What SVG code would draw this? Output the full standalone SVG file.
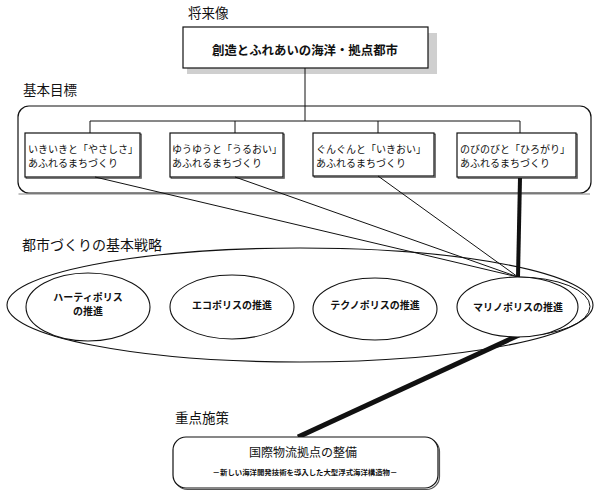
<svg xmlns="http://www.w3.org/2000/svg" width="600" height="496" viewBox="0 0 600 496">
<style>
text{font-family:"Noto Sans CJK JP","Noto Sans CJK SC",sans-serif;fill:#111}
.h{font-size:13.5px}
.bx{fill:#fff;stroke:#111;stroke-width:1.2}
.sh{fill:none;stroke:#555;stroke-width:1.2}
.el{fill:#fff;stroke:#111;stroke-width:1.1}
.t10{font-size:10px}
.e{font-size:10px;font-weight:bold;text-anchor:middle}
.thin{fill:none;stroke:#111;stroke-width:1}
.thick{fill:none;stroke:#111;stroke-linecap:butt}
</style>
<rect width="600" height="496" fill="#fff"/>

<g id="label-shoraizo"><text class="h" x="188" y="18">将来像</text></g>
<g id="label-kihonmokuhyo"><text class="h" x="23" y="95">基本目標</text></g>
<g id="label-senryaku"><text class="h" x="22" y="250" style="font-size:14px">都市づくりの基本戦略</text></g>
<g id="label-juten"><text class="h" x="175" y="423">重点施策</text></g>

<g id="vision">
<rect x="187" y="33" width="250" height="41" fill="#cfcfcf"/>
<rect class="bx" x="183" y="27" width="245" height="41"/>
<text x="305" y="55" style="font-size:12.4px;font-weight:bold;text-anchor:middle">創造とふれあいの海洋・拠点都市</text>
</g>

<g id="goals-frame">
<rect x="18" y="106" width="573" height="87" rx="11" fill="none" stroke="#111" stroke-width="1.2"/>
<line x1="18.5" y1="194" x2="590" y2="194" stroke="#666" stroke-width="0.8"/>
</g>

<g id="strategy-frame">
<ellipse cx="300" cy="305" rx="293" ry="57" fill="none" stroke="#111" stroke-width="1.1"/>
</g>

<g id="goal1">
<rect class="sh" x="26.2" y="134.2" width="115" height="44"/>
<rect class="bx" x="25" y="133" width="115" height="44"/>
<text class="t10" x="28" y="153">いきいきと「やさしさ」</text>
<text class="t10" x="28" y="167">あふれるまちづくり</text>
</g>
<g id="goal2">
<rect class="sh" x="171.2" y="134.2" width="113" height="44"/>
<rect class="bx" x="170" y="133" width="113" height="44"/>
<text class="t10" x="172" y="153">ゆうゆうと「うるおい」</text>
<text class="t10" x="172" y="167">あふれるまちづくり</text>
</g>
<g id="goal3">
<rect class="sh" x="314.2" y="134.2" width="121" height="43"/>
<rect class="bx" x="313" y="133" width="121" height="43"/>
<text class="t10" x="316" y="153">ぐんぐんと「いきおい」</text>
<text class="t10" x="316" y="167">あふれるまちづくり</text>
</g>
<g id="goal4">
<rect class="sh" x="458.2" y="134.2" width="119" height="44"/>
<rect class="bx" x="457" y="133" width="119" height="44"/>
<text class="t10" x="460" y="153">のびのびと「ひろがり」</text>
<text class="t10" x="460" y="167">あふれるまちづくり</text>
</g>

<g id="connectors">
<polyline class="thin" points="305,68 305,121"/>
<polyline class="thin" points="90,133 90,121 520,121 520,133"/>
<line class="thin" x1="235" y1="121" x2="235" y2="133"/>
<line class="thin" x1="378" y1="121" x2="378" y2="133"/>
<line class="thin" x1="95" y1="177" x2="518" y2="277"/>
<line class="thin" x1="235" y1="177" x2="518" y2="277"/>
<line class="thin" x1="378" y1="176" x2="518" y2="277"/>
<path class="thin" d="M518,277 A72,29.5 0 0 1 518,336"/>
<line class="thick" x1="520" y1="178" x2="518" y2="277" stroke-width="4"/>
<line class="thick" x1="519" y1="335" x2="298" y2="437" stroke-width="5"/>
</g>

<g id="harti">
<ellipse class="el" cx="88" cy="307" rx="62" ry="34"/>
<text class="e" x="88" y="301">ハーティポリス</text>
<text class="e" x="88" y="315">の推進</text>
</g>
<g id="eco">
<ellipse class="el" cx="232" cy="307" rx="62" ry="32"/>
<text class="e" x="232" y="309">エコポリスの推進</text>
</g>
<g id="techno">
<ellipse class="el" cx="375" cy="309" rx="62" ry="31"/>
<text class="e" x="375" y="309">テクノポリスの推進</text>
</g>
<g id="marino">
<ellipse class="el" cx="517.5" cy="307" rx="60.5" ry="30"/>
<text class="e" x="518" y="311">マリノポリスの推進</text>
</g>

<g id="priority">
<rect x="174.5" y="438.5" width="265" height="51" rx="13" fill="none" stroke="#555" stroke-width="1.2"/>
<rect class="bx" x="173" y="437" width="265" height="51" rx="13"/>
<text x="303" y="457" style="font-size:12px;text-anchor:middle">国際物流拠点の整備</text>
<text x="305" y="475" style="font-size:7.4px;font-weight:bold;text-anchor:middle">－新しい海洋開発技術を導入した大型浮式海洋構造物－</text>
</g>
</svg>
